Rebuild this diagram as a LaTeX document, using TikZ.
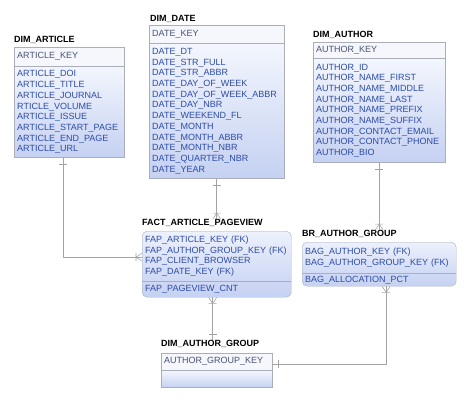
\documentclass[tikz,border=0pt]{standalone}
\usepackage{fontspec}
\setmainfont{Liberation Sans}
\usetikzlibrary{decorations.markings}
\definecolor{boxline}{HTML}{A9AEB9}
\definecolor{keyfill}{HTML}{F5F7FD}
\definecolor{attrtop}{HTML}{F3F6FD}
\definecolor{attrbot}{HTML}{C5D1F2}
\definecolor{facttop}{HTML}{EDF1FC}
\definecolor{keytext}{HTML}{4A5272}
\definecolor{attrtext}{HTML}{2C4BA6}
\definecolor{relline}{HTML}{A3A3A3}
\tikzset{tabletitle/.style = {anchor=west, inner sep=0, font=\fontsize{9}{10}\selectfont\bfseries}}
\tikzset{keyrow/.style = {draw=boxline, fill=keyfill, anchor=north west, inner xsep=3, inner ysep=0,
                          align=left, text=keytext, font=\fontsize{9}{10.7}\selectfont}}
\tikzset{attrrows/.style = {keyrow, top color=attrtop, bottom color=attrbot, text=attrtext}}
\tikzset{roundbox/.style = {draw=boxline, rounded corners=5, top color=facttop, bottom color=attrbot,
                            anchor=north west, inner sep=0}}
\tikzset{fkrows/.style = {anchor=north west, inner xsep=3, inner ysep=0, align=left, text=attrtext,
                          font=\fontsize{9}{10.7}\selectfont}}
\tikzset{rel/.style = {draw=relline, line width=0.6}}
\tikzset{one to many/.style = {decoration={markings,
                                  mark=at position 6pt with {\draw[relline, line width=0.6] (0,-4pt) -- (0,4pt);},
                                  mark=at position 1 with {\draw[relline, line width=0.6] (-6pt,-4pt) -- (-6pt,4pt)
                                        (0,-4pt) -- (-6pt,0) -- (0,4pt);}},
                      postaction={decorate}}}

\begin{document}
\begin{tikzpicture}[x=1pt, y=-1pt]
    \useasboundingbox (0,0) rectangle (470,400);

    % DIM_ARTICLE
    \node [tabletitle] (arttitle) at (14,40) {DIM\_ARTICLE};
    \node [keyrow, text width=104, minimum height=19] (artkey) at (14,47) {ARTICLE\_KEY};
    \node [attrrows, text width=104, minimum height=91] (art) at (artkey.south west) {ARTICLE\_DOI\\ARTICLE\_TITLE\\ARTICLE\_JOURNAL\\RTICLE\_VOLUME\\ARTICLE\_ISSUE\\ARTICLE\_START\_PAGE\\ARTICLE\_END\_PAGE\\ARTICLE\_URL};

    % DIM_DATE
    \node [tabletitle] (datetitle) at (150,19) {DIM\_DATE};
    \node [keyrow, text width=129, minimum height=18] (datekey) at (149,25) {DATE\_KEY};
    \node [attrrows, text width=129, minimum height=135] (date) at (datekey.south west) {DATE\_DT\\DATE\_STR\_FULL\\DATE\_STR\_ABBR\\DATE\_DAY\_OF\_WEEK\\DATE\_DAY\_OF\_WEEK\_ABBR\\DATE\_DAY\_NBR\\DATE\_WEEKEND\_FL\\DATE\_MONTH\\DATE\_MONTH\_ABBR\\DATE\_MONTH\_NBR\\DATE\_QUARTER\_NBR\\DATE\_YEAR};

    % DIM_AUTHOR
    \node [tabletitle] (authortitle) at (313,35) {DIM\_AUTHOR};
    \node [keyrow, text width=126, minimum height=16] (authorkey) at (313,42) {AUTHOR\_KEY};
    \node [attrrows, text width=126, minimum height=104] (author) at (authorkey.south west) {AUTHOR\_ID\\AUTHOR\_NAME\_FIRST\\AUTHOR\_NAME\_MIDDLE\\AUTHOR\_NAME\_LAST\\AUTHOR\_NAME\_PREFIX\\AUTHOR\_NAME\_SUFFIX\\AUTHOR\_CONTACT\_EMAIL\\AUTHOR\_CONTACT\_PHONE\\AUTHOR\_BIO};

    % FACT_ARTICLE_PAGEVIEW
    \node [tabletitle] (facttitle) at (142,223) {FACT\_ARTICLE\_PAGEVIEW};
    \node [roundbox, minimum width=149, minimum height=66] (fact) at (142,231) {};
    \node [fkrows, text width=143, minimum height=50] (factkeys) at (fact.north west) {FAP\_ARTICLE\_KEY (FK)\\FAP\_AUTHOR\_GROUP\_KEY (FK)\\FAP\_CLIENT\_BROWSER\\FAP\_DATE\_KEY (FK)};
    \draw [boxline] (fact.west |- factkeys.south) -- (fact.east |- factkeys.south);
    \node [fkrows, text width=143, minimum height=16] (factcnt) at (factkeys.south west) {FAP\_PAGEVIEW\_CNT};

    % BR_AUTHOR_GROUP
    \node [tabletitle] (brtitle) at (302,234) {BR\_AUTHOR\_GROUP};
    \node [roundbox, minimum width=154, minimum height=44] (br) at (302,242) {};
    \node [fkrows, text width=148, minimum height=31] (brkeys) at (br.north west) {BAG\_AUTHOR\_KEY (FK)\\BAG\_AUTHOR\_GROUP\_KEY (FK)};
    \draw [boxline] (br.west |- brkeys.south) -- (br.east |- brkeys.south);
    \node [fkrows, text width=148, minimum height=13] (brpct) at (brkeys.south west) {BAG\_ALLOCATION\_PCT};

    % DIM_AUTHOR_GROUP
    \node [tabletitle] (dagtitle) at (161,344) {DIM\_AUTHOR\_GROUP};
    \node [keyrow, text width=105, minimum height=17] (dagkey) at (161,353) {AUTHOR\_GROUP\_KEY};
    \node [attrrows, text width=105, minimum height=17] (dag) at (dagkey.south west) {};

    % relationships
    \coordinate (artbot) at ([xshift=-6pt]art.south);
    \coordinate (factbot) at ([xshift=-4pt]fact.south);
    \coordinate (brbot) at ([xshift=7pt]br.south);
    \draw [rel, one to many] (artbot) |- ([yshift=7pt]fact.west);
    \draw [rel, one to many] (date.south) -- (date.south |- facttitle.north);
    \draw [rel, one to many] (author.south) -- (author.south |- brtitle.north);
    \draw [rel, one to many] (factbot |- dagtitle.north) -- (factbot);
    \draw [rel, one to many] ([yshift=-2.5pt]dagkey.east) -| (brbot);
\end{tikzpicture}
\end{document}
